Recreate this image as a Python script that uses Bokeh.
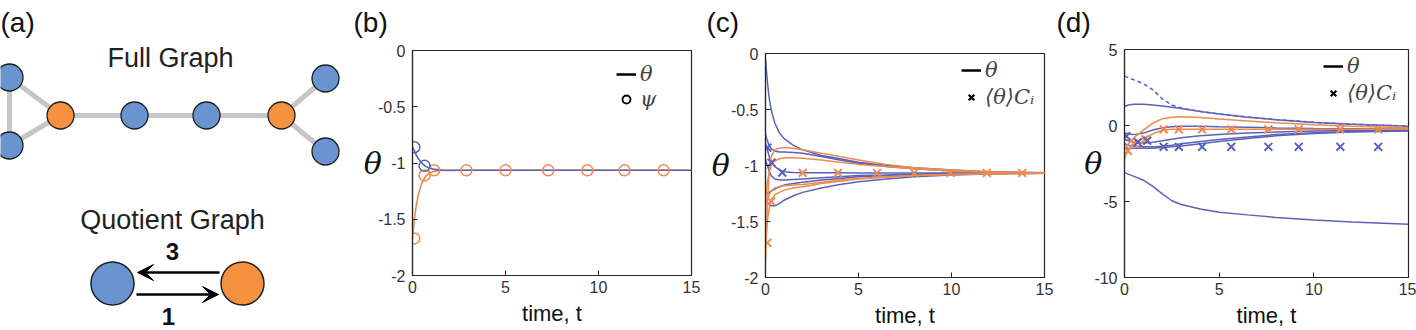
from bokeh.plotting import figure
from bokeh.layouts import row, column
from bokeh.models import (Range1d, FixedTicker, Label, Legend, LegendItem,
                          Arrow, VeeHead, NumeralTickFormatter)
from bokeh.embed import file_html
from bokeh.resources import INLINE

NAN = float("nan")

# ---------------- data ----------------
# (a) full graph: 8 drawn nodes, two clusters (b = blue, o = orange)
node_cluster = ["b", "b", "o", "b", "b", "o", "b", "b"]
edges = [(0, 1), (0, 2), (1, 2), (2, 3), (3, 4), (4, 5), (5, 6), (5, 7)]
quotient_weights = ["3", "1"]

# (b) quotient dynamics
t_b = [0, 0.1, 0.2, 0.3, 0.4, 0.5, 0.7, 0.9, 1.2, 1.6, 2.0, 3.0, 5.0, 8.0, 12.0, 15.0]
theta_b_blue = [-0.86, -0.89, -0.93, -0.96, -0.98, -1.00, -1.03, -1.045, -1.057, -1.062,
                -1.064, -1.065, -1.065, -1.065, -1.065, -1.065]
theta_b_orange = [-1.67, -1.50, -1.38, -1.29, -1.23, -1.18, -1.12, -1.09, -1.072, -1.067,
                  -1.066, -1.065, -1.065, -1.065, -1.065, -1.065]
psi_t_blue = [0.1, 0.65]
psi_blue = [-0.86, -1.025]
psi_t_orange = [0.1, 0.65, 1.16, 2.9, 5.0, 7.3, 9.4, 11.4, 13.5]
psi_orange = [-1.67, -1.11, -1.065, -1.065, -1.065, -1.065, -1.065, -1.065, -1.065]

# (c) full-network dynamics, equitable partition
t_c = [0, 0.1, 0.2, 0.3, 0.5, 0.75, 1.0, 1.5, 2.0, 3.0, 4.0, 5.0, 6.5, 8.0, 10.0, 12.0, 15.0]
c_blue = [
    [-0.05, -0.25, -0.40, -0.50, -0.62, -0.71, -0.76, -0.82, -0.86, -0.91, -0.94, -0.97, -1.00, -1.02, -1.04, -1.055, -1.065],
    [-0.72, -0.78, -0.82, -0.85, -0.87, -0.88, -0.88, -0.885, -0.89, -0.92, -0.95, -0.98, -1.01, -1.03, -1.05, -1.06, -1.068],
    [-0.80, -0.86, -0.92, -0.96, -1.01, -1.04, -1.055, -1.062, -1.064, -1.065, -1.065, -1.066, -1.066, -1.067, -1.067, -1.067, -1.067],
    [-1.25, -1.25, -1.24, -1.23, -1.21, -1.19, -1.175, -1.16, -1.15, -1.13, -1.115, -1.10, -1.09, -1.08, -1.075, -1.07, -1.068],
    [-1.30, -1.33, -1.35, -1.36, -1.36, -1.34, -1.31, -1.27, -1.24, -1.20, -1.17, -1.145, -1.12, -1.10, -1.085, -1.075, -1.07],
    [-0.95, -1.00, -1.05, -1.09, -1.12, -1.13, -1.13, -1.125, -1.12, -1.11, -1.10, -1.09, -1.085, -1.078, -1.072, -1.07, -1.068],
]
c_orange = [
    [-1.85, -1.35, -1.05, -0.92, -0.86, -0.845, -0.84, -0.845, -0.86, -0.89, -0.92, -0.95, -0.99, -1.02, -1.04, -1.055, -1.065],
    [-1.30, -1.15, -1.06, -1.00, -0.96, -0.94, -0.93, -0.93, -0.935, -0.95, -0.97, -0.99, -1.01, -1.03, -1.05, -1.06, -1.067],
    [-1.35, -1.30, -1.26, -1.23, -1.20, -1.19, -1.18, -1.175, -1.17, -1.15, -1.13, -1.115, -1.10, -1.09, -1.08, -1.073, -1.07],
    [-1.70, -1.50, -1.38, -1.31, -1.26, -1.24, -1.22, -1.20, -1.19, -1.16, -1.14, -1.12, -1.105, -1.09, -1.08, -1.073, -1.07],
]
cm_t_blue = [0.1, 0.32, 0.9]
cm_blue = [-0.84, -0.975, -1.063]
cm_t_orange = [0.1, 0.3, 2.0, 3.9, 6.0, 8.0, 9.95, 11.9, 13.8]
cm_orange = [-1.69, -1.32, -1.066, -1.066, -1.067, -1.067, -1.067, -1.067, -1.067]

# (d) full-network dynamics, partition not preserved
t_d = [0, 0.2, 0.5, 1.0, 1.5, 2.0, 2.5, 3.0, 4.0, 5.0, 6.5, 8.0, 10.0, 12.0, 15.0]
d_blue = [
    [1.25, 1.35, 1.40, 1.40, 1.35, 1.28, 1.20, 1.12, 0.92, 0.75, 0.55, 0.38, 0.20, 0.08, -0.05],
    [-3.10, -3.20, -3.35, -3.60, -4.00, -4.50, -4.95, -5.20, -5.50, -5.70, -5.88, -6.05, -6.22, -6.35, -6.50],
    [-0.50, -0.55, -0.60, -0.50, -0.30, -0.15, -0.08, -0.05, -0.05, -0.08, -0.12, -0.16, -0.20, -0.22, -0.25],
    [-0.90, -1.00, -1.10, -1.15, -1.10, -1.00, -0.90, -0.80, -0.68, -0.60, -0.50, -0.43, -0.37, -0.33, -0.30],
    [-1.20, -1.30, -1.35, -1.40, -1.40, -1.37, -1.30, -1.20, -1.05, -0.92, -0.75, -0.60, -0.48, -0.40, -0.35],
    [-1.45, -1.50, -1.50, -1.50, -1.50, -1.45, -1.40, -1.35, -1.20, -1.05, -0.85, -0.68, -0.52, -0.42, -0.36],
]
d_blue_dashed = [3.25, 3.15, 3.00, 2.75, 2.35, 1.75, 1.35, 1.15, 0.93, 0.76, 0.56, 0.39, 0.21, 0.09, -0.04]
d_orange = [
    [-1.60, -1.20, -0.80, -0.30, 0.15, 0.45, 0.55, 0.57, 0.52, 0.42, 0.30, 0.18, 0.05, -0.05, -0.15],
    [-2.20, -1.60, -1.15, -0.85, -0.55, -0.30, -0.25, -0.24, -0.24, -0.24, -0.24, -0.24, -0.24, -0.24, -0.24],
]
dm_t_blue = [0.1, 0.7, 1.2, 2.07, 2.87, 4.1, 5.64, 7.6, 9.2, 11.4, 13.4]
dm_blue = [-0.7, -1.1, -1.0, -1.4, -1.4, -1.4, -1.4, -1.4, -1.4, -1.4, -1.4]
dm_t_orange = [0.18, 0.5, 1.1, 2.07, 2.87, 4.1, 5.64, 7.6, 9.2, 11.4, 13.4]
dm_orange = [-1.67, -1.18, -0.9, -0.25, -0.25, -0.25, -0.25, -0.25, -0.25, -0.25, -0.25]

x_ticks = [0, 5, 10, 15]

# ---------------- styles ----------------
BLUE = "#5a62b8"
ORANGE = "#ee8a4d"
NODE_BLUE = "#6a94d0"
NODE_ORANGE = "#f5913f"
INK = "#262626"
SANS = "Liberation Sans"
SERIF = "DejaVu Serif"
HEADER_H = 42


# ---------------- (a) graph diagram, drawn in pixel-like coordinates ----------------
pa = figure(width=350, height=330, x_range=Range1d(0, 350), y_range=Range1d(330, 0),
            x_axis_location=None, y_axis_location=None, output_backend="svg",
            toolbar_location=None, min_border=0, frame_align=False)
pa.grid.visible = False
pa.outline_line_color = None

node_x = [9, 9, 60, 134, 206, 281, 325, 325]
node_y = [77, 145, 115, 115, 115, 115, 78, 151]
pa.segment(x0=[node_x[i] for i, j in edges], y0=[node_y[i] for i, j in edges],
           x1=[node_x[j] for i, j in edges], y1=[node_y[j] for i, j in edges],
           line_color="#c6c6c6", line_width=5)
pa.scatter(node_x, node_y, size=27,
           fill_color=[NODE_BLUE if c == "b" else NODE_ORANGE for c in node_cluster],
           line_color="#1e1e1e", line_width=1.3)

pa.add_layout(Label(x=0, y=22, text="(a)", text_align="left", text_baseline="middle",
                    text_font=SANS, text_font_size="28px", text_color="#111"))
pa.add_layout(Label(x=170, y=57, text="Full Graph", text_align="center", text_baseline="middle",
                    text_font=SANS, text_font_size="27px", text_color="#222"))
pa.add_layout(Label(x=172, y=219, text="Quotient Graph", text_align="center", text_baseline="middle",
                    text_font=SANS, text_font_size="27px", text_color="#222"))

pa.add_layout(Arrow(end=VeeHead(size=16, fill_color="black", line_color="black"),
                    x_start=219, y_start=272, x_end=137, y_end=272, line_width=2.5, line_color="black"))
pa.add_layout(Arrow(end=VeeHead(size=16, fill_color="black", line_color="black"),
                    x_start=136, y_start=294, x_end=218, y_end=294, line_width=2.5, line_color="black"))
pa.scatter([112, 242], [283, 283], size=43, fill_color=[NODE_BLUE, NODE_ORANGE],
           line_color="#1e1e1e", line_width=1.5)
pa.add_layout(Label(x=172, y=251, text=quotient_weights[0], text_align="center", text_baseline="middle",
                    text_font=SANS, text_font_size="24px", text_font_style="bold", text_color="#111"))
pa.add_layout(Label(x=168, y=316, text=quotient_weights[1], text_align="center", text_baseline="middle",
                    text_font=SANS, text_font_size="24px", text_font_style="bold", text_color="#111"))


# ---------------- header strip holding a panel tag ----------------
def make_header(width, tag, tag_x):
    h = figure(width=width, height=HEADER_H, x_range=Range1d(0, width), y_range=Range1d(HEADER_H, 0),
               x_axis_location=None, y_axis_location=None, output_backend="svg",
               toolbar_location=None, min_border=0, frame_align=False)
    h.grid.visible = False
    h.outline_line_color = None
    h.add_layout(Label(x=tag_x, y=22, text=tag, text_align="left", text_baseline="middle",
                       text_font=SANS, text_font_size="28px", text_color="#111"))
    return h


# ---------------- time-series panels ----------------
def make_panel(width, bl, br, bt, bb, ylo, yhi, yticks, ylab_standoff):
    p = figure(width=width, height=330 - HEADER_H, x_range=Range1d(0, 15), y_range=Range1d(ylo, yhi),
               output_backend="svg", toolbar_location=None, frame_align=False,
               min_border_left=bl, min_border_right=br, min_border_top=bt - HEADER_H,
               min_border_bottom=bb)
    p.grid.visible = False
    p.outline_line_color = INK
    p.outline_line_width = 1.2

    for ax, ticks in ((p.xaxis[0], x_ticks), (p.yaxis[0], yticks)):
        ax.ticker = FixedTicker(ticks=ticks)
        ax.formatter = NumeralTickFormatter(format="0.[0]")
        ax.major_tick_in = 5
        ax.major_tick_out = 0
        ax.minor_tick_in = 0
        ax.minor_tick_out = 0
        ax.axis_line_color = INK
        ax.axis_line_width = 1.2
        ax.major_tick_line_color = INK
        ax.major_label_text_font = SANS
        ax.major_label_text_font_size = "16px"
        ax.major_label_text_color = "#333"
    p.xaxis.major_label_standoff = 5
    p.yaxis.major_label_standoff = 7

    p.xaxis.axis_label = "time, t"
    p.xaxis.axis_label_text_font = SANS
    p.xaxis.axis_label_text_font_style = "normal"
    p.xaxis.axis_label_text_font_size = "22px"
    p.xaxis.axis_label_text_color = "#111"
    p.xaxis.axis_label_standoff = 5

    p.yaxis.axis_label = "θ"
    p.yaxis.axis_label_orientation = "horizontal"
    p.yaxis.axis_label_text_font = SERIF
    p.yaxis.axis_label_text_font_style = "italic"
    p.yaxis.axis_label_text_font_size = "30px"
    p.yaxis.axis_label_text_color = "#111"
    p.yaxis.axis_label_standoff = ylab_standoff
    return p


def add_legend(p, items, vx, vy, spacing):
    legend = Legend(items=items, location=(vx, vy), label_text_font=SERIF,
                    label_text_font_style="italic", label_text_font_size="21px",
                    glyph_width=20, glyph_height=24, label_height=24, label_standoff=4,
                    spacing=spacing, padding=2, margin=0, border_line_color=None,
                    background_fill_alpha=0)
    p.add_layout(legend)


# (b)
hb = make_header(355, "(b)", 3)
pb = make_panel(355, 62, 14, 50, 55, -2, 0, [-2, -1.5, -1, -0.5, 0], -7)
pb.line(t_b, theta_b_orange, line_color=ORANGE, line_width=1.6)
pb.line(t_b, theta_b_blue, line_color=BLUE, line_width=1.6)
pb.scatter(psi_t_orange, psi_orange, marker="circle", size=11, fill_color=None,
           line_color=ORANGE, line_width=1.5)
pb.scatter(psi_t_blue, psi_blue, marker="circle", size=11, fill_color=None,
           line_color=BLUE, line_width=1.5)
kb_line = pb.line(x=[NAN], y=[NAN], line_color="black", line_width=2.5)
kb_circ = pb.scatter(x=[NAN], y=[NAN], marker="circle", size=11, fill_color=None,
                     line_color="black", line_width=1.8)
add_legend(pb, [LegendItem(label="θ", renderers=[kb_line]), LegendItem(label="ψ", renderers=[kb_circ])],
           204, 164, 1)

# (c)
hc = make_header(350, "(c)", 1)
pc = make_panel(350, 60, 11, 53, 51, -2, 0, [-2, -1.5, -1, -0.5, 0], -2)
for ys in c_blue:
    pc.line(t_c, ys, line_color=BLUE, line_width=1.5)
for ys in c_orange:
    pc.line(t_c, ys, line_color=ORANGE, line_width=1.5)
pc.scatter(cm_t_orange, cm_orange, marker="x", size=11, line_color=ORANGE, line_width=2)
pc.scatter(cm_t_blue, cm_blue, marker="x", size=11, line_color=BLUE, line_width=2)
kc_line = pc.line(x=[NAN], y=[NAN], line_color="black", line_width=2.5)
kc_x = pc.scatter(x=[NAN], y=[NAN], marker="x", size=16, line_color="black", line_width=2.2)
add_legend(pc, [LegendItem(label="θ", renderers=[kc_line]), LegendItem(label="⟨θ⟩Cᵢ", renderers=[kc_x])],
           196, 168, 3)

# (d)
hd = make_header(361, "(d)", 1)
pd_ = make_panel(361, 69, 8, 49, 52, -10, 5, [-10, -5, 0, 5], -11)
pd_.line(t_d, d_blue_dashed, line_color=BLUE, line_width=1.5, line_dash="4 3")
for ys in d_blue:
    pd_.line(t_d, ys, line_color=BLUE, line_width=1.5)
for ys in d_orange:
    pd_.line(t_d, ys, line_color=ORANGE, line_width=1.5)
pd_.scatter(dm_t_orange, dm_orange, marker="x", size=11, line_color=ORANGE, line_width=2)
pd_.scatter(dm_t_blue, dm_blue, marker="x", size=11, line_color=BLUE, line_width=2)
kd_line = pd_.line(x=[NAN], y=[NAN], line_color="black", line_width=2.5)
kd_x = pd_.scatter(x=[NAN], y=[NAN], marker="x", size=16, line_color="black", line_width=2.2)
add_legend(pd_, [LegendItem(label="θ", renderers=[kd_line]), LegendItem(label="⟨θ⟩Cᵢ", renderers=[kd_x])],
           199, 172, 3)

layout = row(pa, column(hb, pb, spacing=0), column(hc, pc, spacing=0),
             column(hd, pd_, spacing=0), spacing=0)
open("out.html", "w").write(file_html(layout, INLINE))
